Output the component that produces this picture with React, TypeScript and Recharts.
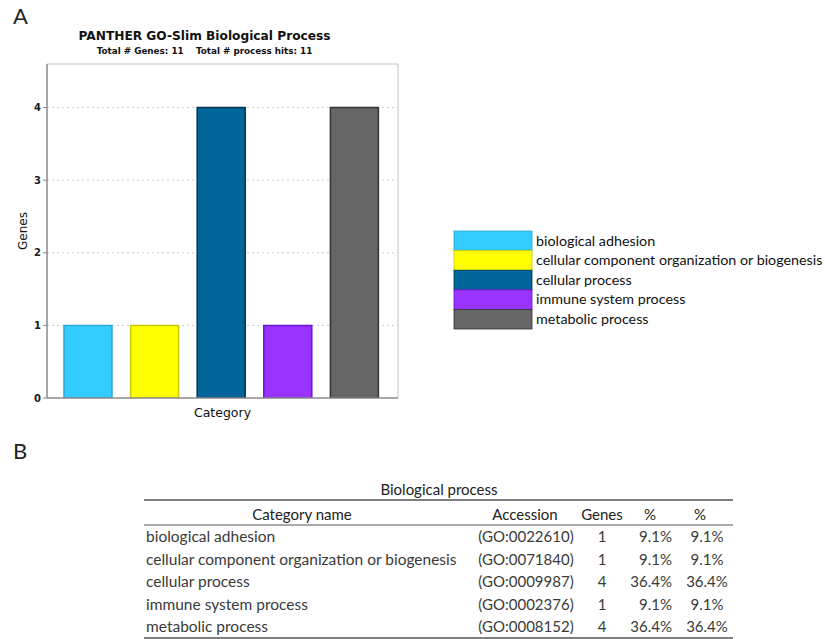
import React from 'react';
import * as Recharts from 'recharts';
import { BarChart, Bar, XAxis, YAxis, CartesianGrid, Cell } from 'recharts';

// GO-Slim biological process categories and gene counts
const categories = [
  'biological adhesion',
  'cellular component organization or biogenesis',
  'cellular process',
  'immune system process',
  'metabolic process',
];
const geneCounts = [1, 1, 4, 1, 4];
const accessions = ['(GO:0022610)', '(GO:0071840)', '(GO:0009987)', '(GO:0002376)', '(GO:0008152)'];
const pctOfGenes = ['9.1%', '9.1%', '36.4%', '9.1%', '36.4%'];
const pctOfHits = ['9.1%', '9.1%', '36.4%', '9.1%', '36.4%'];
const fillColors = ['#33ccff', '#ffff00', '#006699', '#9933ff', '#666666'];
const strokeColors = ['#2aa6d2', '#c8c800', '#00324f', '#6a14cc', '#333333'];
const yTicks = [0, 1, 2, 3, 4];
const gridTicks = [1, 2, 3, 4];
const yDomain = [0, 4.6];

const chartData = categories.map((name, i) => ({ name, genes: geneCounts[i] }));

const CHART_FONT = '"DejaVu Sans", Verdana, sans-serif';
const TABLE_FONT = 'Lato, Carlito, Calibri, sans-serif';

// table column anchors
const colCategory = 146;
const colAccession = 526;
const colGenes = 602;
const colPct1 = 672;
const colPct2 = 707;
const rowBaseline0 = 542;
const rowStep = 22.5;

// light frame on the top and right of the plot area
function PlotFrame() {
  const hook = (Recharts as any).usePlotArea;
  const area = hook ? hook() : null;
  if (!area) return null;
  const { x, y, width, height } = area;
  return (
    <g>
      <line x1={x} x2={x + width} y1={y} y2={y} stroke="#c4c4c4" strokeWidth={1} />
      <line x1={x + width} x2={x + width} y1={y} y2={y + height} stroke="#c4c4c4" strokeWidth={1} />
    </g>
  );
}

export default function App() {
  return (
    <div style={{ position: 'absolute', left: 0, top: 0, width: 825, height: 639, background: '#fff', overflow: 'hidden' }}>
      <div style={{ position: 'absolute', left: 0, top: 0 }}>
        <BarChart
          width={420}
          height={430}
          data={chartData}
          margin={{ top: 64, right: 22, bottom: 0, left: 7 }}
          barSize={48}
        >
          <CartesianGrid
            xAxisId="bottom"
            yAxisId="left"
            horizontal
            vertical={false}
            stroke="#cccccc"
            strokeDasharray="2 3"
            horizontalValues={gridTicks}
          />
          <XAxis
            xAxisId="bottom"
            dataKey="name"
            tick={false}
            tickLine={false}
            height={32}
            padding={{ left: 8, right: 10 }}
            axisLine={{ stroke: '#8a8a8a', strokeWidth: 1.5 }}
          />
          <YAxis
            yAxisId="left"
            type="number"
            domain={yDomain}
            allowDataOverflow
            ticks={yTicks}
            tickCount={0}
            width={40}
            tickSize={4}
            tickLine={{ stroke: '#8a8a8a' }}
            axisLine={{ stroke: '#8a8a8a', strokeWidth: 1.5 }}
            tick={{ fill: '#1a1a1a', fontSize: 10, fontWeight: 700, fontFamily: CHART_FONT }}
          />
          <Bar dataKey="genes" xAxisId="bottom" yAxisId="left" isAnimationActive={false} strokeWidth={1.5}>
            {chartData.map((d, i) => (
              <Cell key={d.name} fill={fillColors[i]} stroke={strokeColors[i]} />
            ))}
          </Bar>
          <PlotFrame />
        </BarChart>
      </div>

      <svg width={825} height={639} style={{ position: 'absolute', left: 0, top: 0, pointerEvents: 'none' }}>
        {/* panel letters */}
        <text x={13} y={24} fontFamily={TABLE_FONT} fontSize={22} fill="#222">A</text>
        <text x={13} y={459} fontFamily={TABLE_FONT} fontSize={22} fill="#222">B</text>

        {/* chart titles */}
        <text x={204.5} y={40} textAnchor="middle" fontFamily={CHART_FONT} fontWeight={700} fontSize={12.2} fill="#111">
          PANTHER GO-Slim Biological Process
        </text>
        <text x={204.5} y={54} textAnchor="middle" fontFamily={CHART_FONT} fontWeight={700} fontSize={8.8} fill="#111" style={{ whiteSpace: 'pre' }}>
          {'Total # Genes: 11    Total # process hits: 11'}
        </text>

        {/* axis titles */}
        <text x={27} y={231} textAnchor="middle" fontFamily={CHART_FONT} fontSize={12} fill="#111" transform="rotate(-90 27 231)">
          Genes
        </text>
        <text x={222.5} y={417} textAnchor="middle" fontFamily={CHART_FONT} fontSize={12.5} fill="#111">
          Category
        </text>

        {/* legend */}
        {categories.map((name, i) => (
          <g key={name}>
            <rect x={454} y={231 + i * 19.6} width={78} height={19.6} fill={fillColors[i]} stroke={strokeColors[i]} strokeWidth={0.8} />
            <text x={536} y={245.5 + i * 19.6} fontFamily={TABLE_FONT} fontSize={14.3} fill="#111">
              {name}
            </text>
          </g>
        ))}

        {/* table */}
        <text x={439} y={495} textAnchor="middle" fontFamily={TABLE_FONT} fontSize={15} fill="#222">Biological process</text>
        <line x1={144} x2={733} y1={500} y2={500} stroke="#555" strokeWidth={1.3} />
        <g fontFamily={TABLE_FONT} fontSize={15} fill="#222" textAnchor="middle">
          <text x={302} y={519.5}>Category name</text>
          <text x={525} y={519.5}>Accession</text>
          <text x={602} y={519.5}>Genes</text>
          <text x={650} y={519.5}>%</text>
          <text x={700} y={519.5}>%</text>
        </g>
        <line x1={144} x2={733} y1={525} y2={525} stroke="#555" strokeWidth={1} />
        {categories.map((name, i) => {
          const y = rowBaseline0 + i * rowStep;
          return (
            <g key={name} fontFamily={TABLE_FONT} fontSize={15} fill="#3a3a3a">
              <text x={colCategory} y={y} fontSize={15.5}>{name}</text>
              <text x={colAccession} y={y} textAnchor="middle">{accessions[i]}</text>
              <text x={colGenes} y={y} textAnchor="middle">{geneCounts[i]}</text>
              <text x={colPct1} y={y} textAnchor="end">{pctOfGenes[i]}</text>
              <text x={colPct2} y={y} textAnchor="middle">{pctOfHits[i]}</text>
            </g>
          );
        })}
        <line x1={144} x2={733} y1={638} y2={638} stroke="#555" strokeWidth={1.3} />
      </svg>
    </div>
  );
}
